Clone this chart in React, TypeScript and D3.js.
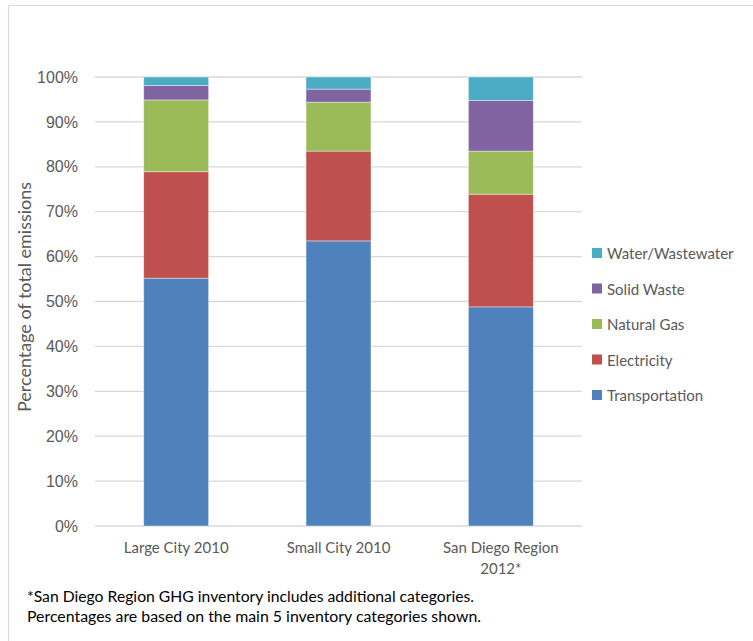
import React, { useRef, useEffect } from 'react';
import * as d3 from 'd3';

// shares of total emissions (%)
const categories = ['Large City 2010', 'Small City 2010', 'San Diego Region 2012*'];
const transportation = [55.2, 63.5, 48.8];
const electricity = [23.7, 20.0, 25.1];
const naturalGas = [16.0, 10.9, 9.6];
const solidWaste = [3.2, 2.9, 11.3];
const water = [1.9, 2.7, 5.2];

const seriesNames = ['Transportation', 'Electricity', 'Natural Gas', 'Solid Waste', 'Water/Wastewater'];
const colors = ['#4F81BD', '#C0504D', '#9BBB59', '#8064A2', '#4BACC6'];
const yTicks = [0, 10, 20, 30, 40, 50, 60, 70, 80, 90, 100];
const footnotes = [
  '*San Diego Region GHG inventory includes additional categories.',
  'Percentages are based on the main 5 inventory categories shown.'
];
const footnoteWidths = [447, 454];

const W = 753;
const H = 641;
const textFont = 'Lato, "Open Sans", sans-serif';

const EmissionsChart: React.FC = () => {
  const ref = useRef<SVGSVGElement | null>(null);

  useEffect(() => {
    const svg = d3.select(ref.current);
    svg.selectAll('*').remove();

    const rows = categories.map((c, i) => ({
      cat: c,
      Transportation: transportation[i],
      Electricity: electricity[i],
      'Natural Gas': naturalGas[i],
      'Solid Waste': solidWaste[i],
      'Water/Wastewater': water[i]
    }));

    const x = d3.scaleBand().domain(categories).range([95, 582]).paddingInner(0.6).paddingOuter(0.3);
    const y = d3.scaleLinear().domain([0, 100]).range([526, 77]);

    // outer frame
    svg.append('line').attr('x1', 8.5).attr('x2', 753).attr('y1', 5.5).attr('y2', 5.5)
      .attr('stroke', '#d9d9d9').attr('stroke-width', 1.2);
    svg.append('line').attr('x1', 8.5).attr('x2', 8.5).attr('y1', 5.5).attr('y2', H)
      .attr('stroke', '#d9d9d9').attr('stroke-width', 1.2);

    // gridlines + y labels
    const grid = svg.append('g');
    yTicks.forEach((t) => {
      grid.append('line')
        .attr('x1', 95).attr('x2', 582)
        .attr('y1', y(t)).attr('y2', y(t))
        .attr('stroke', '#d9d9d9').attr('stroke-width', 1.3);
      grid.append('text')
        .attr('x', 78).attr('y', y(t)).attr('dy', '0.35em')
        .attr('text-anchor', 'end')
        .attr('font-family', '"Liberation Sans", Arial, sans-serif')
        .attr('font-size', 16).attr('fill', '#595959')
        .text(`${t}%`);
    });

    // stacked bars
    const stack = d3.stack<any>().keys(seriesNames);
    const layers = stack(rows);
    layers.forEach((layer, li) => {
      svg.append('g').selectAll('rect')
        .data(layer)
        .join('rect')
        .attr('x', (d: any) => x(d.data.cat)!)
        .attr('width', x.bandwidth())
        .attr('y', (d) => y(d[1]))
        .attr('height', (d) => y(d[0]) - y(d[1]))
        .attr('fill', colors[li])
        .attr('stroke', '#ffffff').attr('stroke-opacity', 0.5).attr('stroke-width', 0.8);
    });

    // x labels
    categories.forEach((c) => {
      const cx = x(c)! + x.bandwidth() / 2;
      const parts = c === 'San Diego Region 2012*' ? ['San Diego Region', '2012*'] : [c];
      parts.forEach((p, i) => {
        svg.append('text')
          .attr('x', cx).attr('y', 548 + i * 21).attr('dy', '0.35em')
          .attr('text-anchor', 'middle')
          .attr('font-family', textFont).attr('font-size', 15).attr('fill', '#595959')
          .text(p);
      });
    });

    // y title
    svg.append('text')
      .attr('transform', `translate(25,297) rotate(-90)`)
      .attr('text-anchor', 'middle').attr('dy', '0.35em')
      .attr('font-family', textFont).attr('font-size', 17).attr('fill', '#595959')
      .attr('textLength', 230).attr('lengthAdjust', 'spacingAndGlyphs')
      .text('Percentage of total emissions');

    // legend, top to bottom reversed
    const legendOrder = seriesNames.map((n, i) => ({ n, c: colors[i] })).reverse();
    const lg = svg.append('g');
    legendOrder.forEach((d, i) => {
      const ly = 254 + i * 35.5;
      lg.append('rect').attr('x', 592).attr('y', ly - 6).attr('width', 10).attr('height', 10).attr('fill', d.c);
      lg.append('text')
        .attr('x', 607).attr('y', ly).attr('dy', '0.35em')
        .attr('font-family', textFont).attr('font-size', 15).attr('fill', '#595959')
        .text(d.n);
    });

    // footnotes
    footnotes.forEach((f, i) => {
      svg.append('text')
        .attr('x', 27).attr('y', 597 + i * 20).attr('dy', '0.35em')
        .attr('font-family', textFont).attr('font-size', 15.5).attr('fill', '#000')
        .attr('textLength', footnoteWidths[i]).attr('lengthAdjust', 'spacingAndGlyphs')
        .text(f);
    });
  }, []);

  return (
    <div style={{ position: 'absolute', left: 0, top: 0 }}>
      <svg ref={ref} width={W} height={H} style={{ display: 'block', background: '#fff' }} />
    </div>
  );
};

export default function App() {
  return <EmissionsChart />;
}
